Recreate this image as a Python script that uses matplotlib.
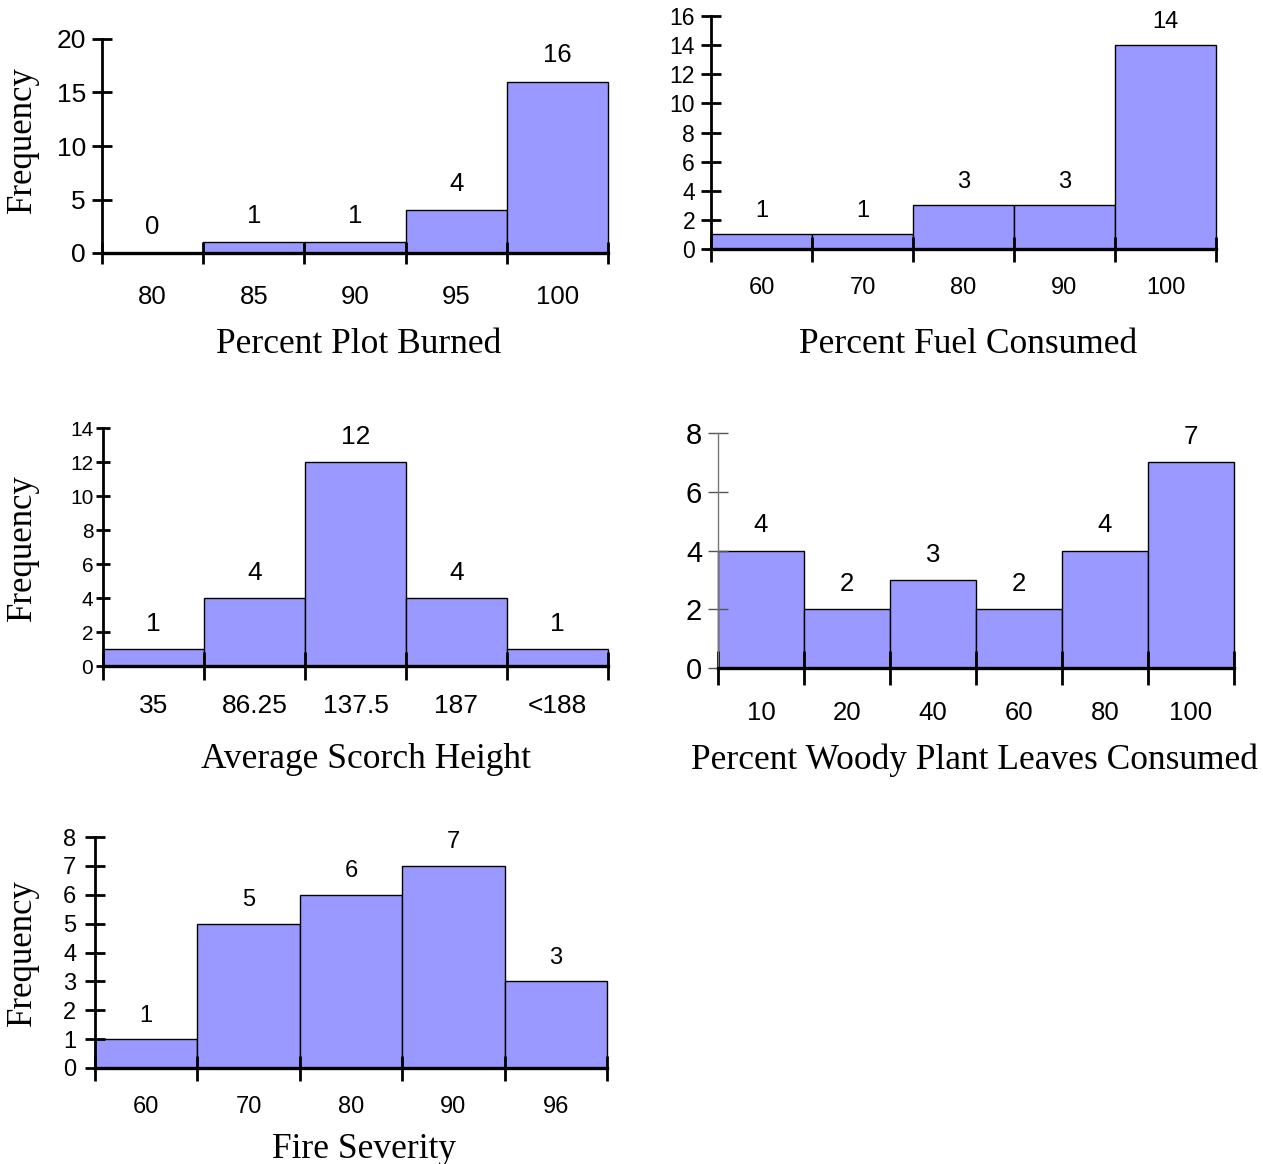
import matplotlib.pyplot as plt
import numpy as np

W, H = 1263, 1164
SERIF = "Liberation Serif"
SANS = "Liberation Sans"
BAR = "#9999FF"

burned_bins = ["80", "85", "90", "95", "100"]
burned_freq = [0, 1, 1, 4, 16]

fuel_bins = ["60", "70", "80", "90", "100"]
fuel_freq = [1, 1, 3, 3, 14]

scorch_bins = ["35", "86.25", "137.5", "187", "<188"]
scorch_freq = [1, 4, 12, 4, 1]

leaves_bins = ["10", "20", "40", "60", "80", "100"]
leaves_freq = [4, 2, 3, 2, 4, 7]

severity_bins = ["60", "70", "80", "90", "96"]
severity_freq = [1, 5, 6, 7, 3]


def px_axes(fig, left, top, right, bottom):
    return fig.add_axes([left / W, 1 - bottom / H, (right - left) / W, (bottom - top) / H])


def fig_text(fig, x, y, s, **kw):
    fig.text(x / W, 1 - y / H, s, **kw)


def panel(fig, rect, bins, freq, ymax, ystep, ysize, xsize, labsize,
          xpad, lab_off, ypad=4, ylen=15, left_grey=False, xtick_len=11):
    ax = px_axes(fig, *rect)
    x = np.arange(len(bins))
    ax.bar(x, freq, width=1.0, color=BAR, edgecolor="black", linewidth=1.0, clip_on=False)
    ax.set_xlim(-0.5, len(bins) - 0.5)
    ax.set_ylim(0, ymax)

    ax.spines["top"].set_visible(False)
    ax.spines["right"].set_visible(False)
    ax.spines["bottom"].set_linewidth(2.4)
    ax.spines["left"].set_linewidth(1.0 if left_grey else 2.0)
    ax.spines["left"].set_color("#777777" if left_grey else "black")
    ax.set_facecolor("none")

    yt = np.arange(0, ymax + 0.1, ystep)
    ax.set_yticks(yt, [f"{v:g}" for v in yt], fontsize=ysize, family=SANS)
    ax.tick_params(axis="y", direction="inout", length=ylen, width=1.0 if left_grey else 2.0,
                   color="#555555" if left_grey else "black", pad=ypad)

    ax.set_xticks(x, bins, fontsize=xsize, family=SANS)
    ax.tick_params(axis="x", which="major", length=0, pad=xpad)
    ax.set_xticks(np.arange(len(bins) + 1) - 0.5, minor=True)
    ax.tick_params(axis="x", which="minor", direction="inout", length=xtick_len, width=2.0)

    for i, v in zip(x, freq):
        ax.annotate(str(v), (i, v), xytext=(0, lab_off), textcoords="offset points",
                    ha="center", va="center", fontsize=labsize, family=SANS)
    return ax


fig = plt.figure(figsize=(W / 100, H / 100), dpi=100)

panel(fig, (102, 39, 608, 253), burned_bins, burned_freq, 20, 5,
      19, 18.5, 18.5, xpad=23, lab_off=19, xtick_len=16)
panel(fig, (711, 16, 1216, 249), fuel_bins, fuel_freq, 16, 2,
      16.5, 17, 17, xpad=20, lab_off=17, xtick_len=18)
panel(fig, (103, 428, 608, 666), scorch_bins, scorch_freq, 14, 2,
      15, 19, 19, xpad=20, lab_off=18, ypad=2, ylen=10, xtick_len=20)
panel(fig, (718, 433, 1234, 668), leaves_bins, leaves_freq, 8, 2,
      21, 18.5, 18.5, xpad=24, lab_off=18, left_grey=True, xtick_len=24)
panel(fig, (95, 837, 607, 1068), severity_bins, severity_freq, 8, 1,
      17, 17, 17, xpad=20, lab_off=17, ypad=6, xtick_len=18)

xlabels = [
    ("Percent Plot Burned", 359, 344),
    ("Percent Fuel Consumed", 968, 344),
    ("Average Scorch Height", 366, 760),
    ("Percent Woody Plant Leaves Consumed", 974, 760),
    ("Fire Severity", 364, 1149),
]
for s, x, y in xlabels:
    fig_text(fig, x, y, s, ha="center", va="center", fontsize=25.5, family=SERIF)

for y in (140, 548, 953):
    fig_text(fig, 22, y, "Frequency", ha="center", va="center", rotation=90,
             fontsize=25, family=SERIF)

fig.savefig("out.png", dpi=100)
